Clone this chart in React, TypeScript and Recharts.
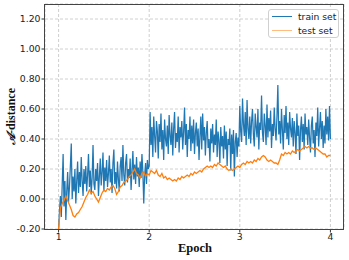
import { LineChart, Line, XAxis, YAxis, CartesianGrid } from 'recharts'

// train sampled every 0.01 epoch, test every 0.02 epoch, both from 1.00 to 4.00
const TRAIN_STEP = 0.01
const TEST_STEP = 0.02
const trainSet = [
  -0.20, -0.08, 0.02, -0.12, 0.10, 0.30, -0.05, 0.12, -0.14, 0.05,
  0.18, -0.02, 0.08, 0.22, 0.37, 0.00, 0.15, 0.05, 0.20, -0.03,
  0.12, 0.25, 0.04, 0.18, 0.08, 0.28, 0.12, 0.02, 0.20, 0.10,
  0.22, 0.05, 0.16, 0.30, 0.08, 0.19, 0.03, 0.14, 0.36, 0.10,
  0.06, 0.20, 0.12, 0.24, 0.02, 0.15, 0.27, 0.09, 0.18, 0.31,
  0.05, 0.21, 0.12, 0.26, 0.08, 0.17, 0.29, 0.11, 0.20, 0.04,
  0.24, 0.33, 0.10, 0.18, 0.07, 0.25, 0.13, 0.05, 0.22, 0.28,
  0.12, 0.36, 0.16, 0.09, 0.24, 0.30, 0.11, 0.20, 0.14, 0.27,
  0.06, 0.19, 0.32, 0.13, 0.23, 0.10, 0.28, 0.15, 0.21, 0.08,
  0.25, 0.14, 0.30, 0.18, -0.03, 0.16, 0.24, 0.10, 0.26, 0.20,
  0.22, 0.58, 0.36, 0.48, 0.28, 0.55, 0.42, 0.31, 0.52, 0.45,
  0.27, 0.50, 0.38, 0.57, 0.33, 0.46, 0.26, 0.53, 0.40, 0.35,
  0.49, 0.30, 0.56, 0.42, 0.36, 0.51, 0.29, 0.47, 0.58, 0.34,
  0.44, 0.38, 0.55, 0.31, 0.48, 0.41, 0.52, 0.33, 0.45, 0.61,
  0.36, 0.50, 0.28, 0.46, 0.40, 0.55, 0.32, 0.49, 0.37, 0.53,
  0.30, 0.44, 0.51, 0.35, 0.47, 0.26, 0.42, 0.55, 0.33, 0.57,
  0.39, 0.48, 0.29, 0.44, 0.52, 0.34, 0.40, 0.25, 0.47, 0.37,
  0.50, 0.31, 0.43, 0.36, 0.53, 0.28, 0.45, 0.39, 0.24, 0.48,
  0.35, 0.42, 0.27, 0.49, 0.33, 0.45, 0.22, 0.40, 0.36, 0.47,
  0.19, 0.43, 0.30, 0.46, 0.15, 0.38, 0.44, 0.28, 0.41, 0.35,
  0.62, 0.45, 0.38, 0.67, 0.50, 0.42, 0.58, 0.36, 0.66, 0.47,
  0.40, 0.55, 0.37, 0.52, 0.60, 0.43, 0.35, 0.57, 0.48, 0.41,
  0.60, 0.33, 0.51, 0.46, 0.69, 0.44, 0.38, 0.57, 0.49, 0.36,
  0.63, 0.41, 0.54, 0.45, 0.59, 0.34, 0.50, 0.42, 0.61, 0.47,
  0.39, 0.55, 0.76, 0.43, 0.52, 0.37, 0.60, 0.46, 0.33, 0.56,
  0.44, 0.62, 0.40, 0.51, 0.36, 0.58, 0.47, 0.41, 0.54, 0.35,
  0.52, 0.44, 0.30, 0.57, 0.42, 0.49, 0.26, 0.46, 0.55, 0.38,
  0.50, 0.33, 0.57, 0.43, 0.48, 0.36, 0.53, 0.41, 0.31, 0.49,
  0.55, 0.37, 0.46, 0.28, 0.51, 0.42, 0.61, 0.35, 0.47, 0.58,
  0.40, 0.52, 0.34, 0.49, 0.37, 0.60, 0.43, 0.55, 0.39, 0.62,
  0.40,
]
const testSet = [
  -0.20, -0.06, -0.03, -0.01, 0.02, -0.01, -0.04, -0.07, -0.11, -0.12,
  -0.10, -0.09, -0.07, -0.05, -0.02, 0.01, 0.03, 0.06, 0.04, 0.05,
  0.02, 0.00, -0.02, 0.01, 0.04, 0.06, 0.05, 0.07, 0.06, 0.08,
  0.09, 0.07, 0.03, 0.05, 0.08, 0.09, 0.11, 0.12, 0.13, 0.15,
  0.16, 0.18, 0.20, 0.17, 0.16, 0.14, 0.17, 0.18, 0.15, 0.17,
  0.16, 0.19, 0.18, 0.17, 0.19, 0.16, 0.15, 0.17, 0.14, 0.15,
  0.13, 0.14, 0.13, 0.12, 0.13, 0.12, 0.14, 0.13, 0.15, 0.14,
  0.15, 0.16, 0.15, 0.17, 0.16, 0.18, 0.17, 0.18, 0.19, 0.18,
  0.20, 0.21, 0.22, 0.21, 0.22, 0.21, 0.23, 0.22, 0.24, 0.23,
  0.22, 0.21, 0.22, 0.20, 0.19, 0.20, 0.19, 0.20, 0.21, 0.22,
  0.21, 0.23, 0.24, 0.23, 0.25, 0.24, 0.25, 0.24, 0.26, 0.25,
  0.27, 0.26, 0.28, 0.29, 0.28, 0.26, 0.25, 0.26, 0.25, 0.24,
  0.24, 0.23, 0.26, 0.30, 0.29, 0.31, 0.30, 0.31, 0.30, 0.32,
  0.31, 0.32, 0.33, 0.32, 0.33, 0.34, 0.35, 0.34, 0.35, 0.34,
  0.34, 0.33, 0.34, 0.33, 0.32, 0.31, 0.30, 0.30, 0.28, 0.29,
  0.29,
]
const xTicks = [1, 2, 3, 4]
const yTicks = [-0.2, 0, 0.2, 0.4, 0.6, 0.8, 1.0, 1.2]

const BLUE = '#1f77b4'
const ORANGE = '#ff7f0e'

const trainData = trainSet.map((v, i) => ({ epoch: +(1 + i * TRAIN_STEP).toFixed(2), value: v }))
const testData = testSet.map((v, i) => ({ epoch: +(1 + i * TEST_STEP).toFixed(2), value: v }))

const tickStyle = { fontSize: 9.3, fill: '#222', fontFamily: 'DejaVu Sans' }

export default function App() {
  return (
    <div style={{ position: 'absolute', left: 0, top: 0, width: 349, height: 260, background: '#fff' }}>
      <LineChart width={349} height={260} margin={{ top: 4, right: 5, left: 0, bottom: 0 }}>
        <CartesianGrid stroke="#c4c4c4" strokeDasharray="3 2" strokeWidth={0.8} />
        <XAxis
          dataKey="epoch"
          type="number"
          domain={[0.85, 4.15]}
          ticks={xTicks}
          allowDuplicatedCategory={false}
          height={31}
          axisLine={false}
          tickLine={{ stroke: '#333' }}
          tickSize={3.5}
          tickMargin={1}
          tick={tickStyle}
          label={() => (
            <text x={195} y={252} textAnchor="middle" fontFamily="Liberation Serif" fontWeight="bold" fontSize={12.5} fill="#111">
              Epoch
            </text>
          )}
        />
        <YAxis
          type="number"
          domain={[-0.2, 1.3]}
          ticks={yTicks}
          width={45}
          axisLine={false}
          tickLine={{ stroke: '#333' }}
          tickSize={3.5}
          tickMargin={1}
          tick={tickStyle}
          tickFormatter={(v: number) => v.toFixed(2)}
          label={() => (
            <text transform="translate(15,116.5) rotate(-90)" textAnchor="middle" fontFamily="Liberation Serif" fontWeight="bold" fontSize={12} fill="#111">
              <tspan fontStyle="italic" fontFamily="DejaVu Serif">𝒜</tspan>-distance
            </text>
          )}
        />
        <Line data={trainData} dataKey="value" name="train set" stroke={BLUE} strokeWidth={1.25} dot={false} type="linear" isAnimationActive={false} />
        <Line data={testData} dataKey="value" name="test set" stroke={ORANGE} strokeWidth={1.3} dot={false} type="linear" isAnimationActive={false} />
      </LineChart>

      {/* plot frame */}
      <div style={{ position: 'absolute', left: 44, top: 4, width: 300, height: 226, border: '1px solid #444', boxSizing: 'border-box', pointerEvents: 'none' }} />

      {/* legend */}
      <div style={{ position: 'absolute', left: 268, top: 9, width: 71, height: 29, border: '1px solid #d0d0d0', borderRadius: 3, background: 'rgba(255,255,255,0.85)', boxSizing: 'border-box', fontFamily: 'DejaVu Sans', fontSize: 9.2, color: '#222' }}>
        <div style={{ position: 'absolute', left: 3, top: 6, width: 20, height: 1.3, background: BLUE }} />
        <div style={{ position: 'absolute', left: 29, top: 1, lineHeight: '12px' }}>train set</div>
        <div style={{ position: 'absolute', left: 3, top: 20, width: 20, height: 1.3, background: '#ffbb80' }} />
        <div style={{ position: 'absolute', left: 29, top: 15, lineHeight: '12px' }}>test set</div>
      </div>
    </div>
  )
}
